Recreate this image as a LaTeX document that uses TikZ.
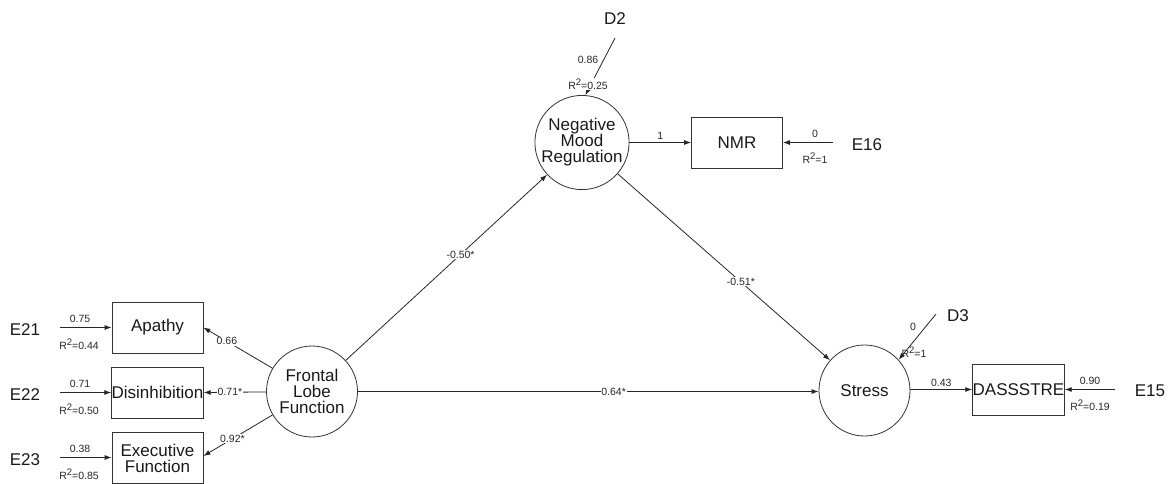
\documentclass[tikz,border=0pt]{standalone}
\usepackage{fontspec}
\setmainfont{Liberation Sans}
\usetikzlibrary{arrows.meta}
\newcommand{\rsq}{R\raisebox{0.38em}{\fontsize{9.5}{9.5}\selectfont 2}}
\begin{document}
\begin{tikzpicture}[x=1pt,y=-1pt,
  lat/.style={circle,draw=black!80,line width=0.8pt,minimum size=91pt,inner sep=0pt,align=center,text=black!90,font=\fontsize{17}{16}\selectfont},
  obs/.style={rectangle,draw=black!80,line width=0.8pt,minimum width=91pt,minimum height=51pt,inner sep=0pt,align=center,text=black!90,font=\fontsize{17}{16}\selectfont},
  err/.style={font=\fontsize{17}{18}\selectfont,inner sep=0pt,text=black!90},
  pth/.style={draw=black!85,line width=0.8pt,-{Latex[length=7pt,width=5pt]}},
  lbl/.style={font=\fontsize{10.5}{11}\selectfont,fill=white,inner sep=0.8pt,text=black!85},
  sml/.style={font=\fontsize{10.5}{11}\selectfont,inner sep=0pt,text=black!85}]
\useasboundingbox (0,0) rectangle (1176,483);

% latent variables
\node[lat] (FLF) at (312,391.5) {Frontal\\Lobe\\Function};
\node[lat] (NMRl) at (582,142.5) {Negative\\Mood\\Regulation};
\node[lat] (ST) at (864.5,390.5) {Stress};

% observed variables
\node[obs] (AP) at (157.5,327.5) {Apathy};
\node[obs] (DI) at (157.5,392.5) {Disinhibition};
\node[obs] (EF) at (157.5,458) {Executive\\Function};
\node[obs] (NMR) at (737,142.5) {NMR};
\node[obs] (DS) at (1018.5,389.5) {DASSSTRE};

% error / disturbance names
\node[err] (E21) at (25,330) {E21};
\node[err] (E22) at (25,395) {E22};
\node[err] (E23) at (25,460) {E23};
\node[err] (E16) at (867,145) {E16};
\node[err] (E15) at (1150,391) {E15};
\node[err] (D2) at (615,19) {D2};
\node[err] (D3) at (958,316) {D3};

% start points of error arrows
\coordinate (e21) at (60,327.5);
\coordinate (e22) at (60,392.5);
\coordinate (e23) at (60,457.5);
\coordinate (e16) at (833,142.5);
\coordinate (e15) at (1115,389.5);
\coordinate (d2) at (615,38);
\coordinate (d3) at (936,314);

% error arrows
\draw[pth] (e21) -- (AP.west);
\draw[pth] (e22) -- (DI.west);
\draw[pth] (e23) -- (EF.west |- e23);
\draw[pth] (e16) -- (NMR.east);
\draw[pth] (e15) -- (DS.east);
\draw[pth] (d2) -- (NMRl.86);
\draw[pth] (d3) -- (ST.42);

\node[sml] (l21) at (80,319) {0.75};
\node[sml] (r21) at (79,344) {\rsq=0.44};
\node[sml] (l22) at (80,384) {0.71};
\node[sml] (r22) at (79,409) {\rsq=0.50};
\node[sml] (l23) at (80,449) {0.38};
\node[sml] (r23) at (79,474) {\rsq=0.85};
\node[sml] (l16) at (815,134) {0};
\node[sml] (r16) at (815,158) {\rsq=1};
\node[sml] (l15) at (1090,381) {0.90};
\node[sml] (r15) at (1090,405) {\rsq=0.19};
\node[sml] (ld2) at (588,60) {0.86};
\node[lbl] (rd2) at (588,84) {\rsq=0.25};
\node[sml] (ld3) at (913,327) {0};
\node[sml] (rd3) at (914,352) {\rsq=1};

% structural paths
\draw[pth] (FLF) -- (AP.east) node[lbl,pos=0.66] {0.66};
\draw[pth] (FLF) -- (DI.east) node[lbl,pos=0.58] {0.71*};
\draw[pth] (FLF) -- (EF.east |- 0,456) node[lbl,pos=0.58] {0.92*};
\draw[pth] (FLF) -- (NMRl) node[lbl,pos=0.57] {-0.50*};
\draw[pth] (NMRl) -- (ST) node[lbl,pos=0.58] {-0.51*};
\draw[pth] (FLF.east) -- (ST.west |- FLF.east) node[lbl,pos=0.555] {0.64*};
\draw[pth] (NMRl) -- (NMR) node[sml,pos=0.5,above=3pt] {1};
\draw[pth] (ST.east |- DS.west) -- (DS.west) node[sml,pos=0.5,above=3pt] {0.43};
\end{tikzpicture}
\end{document}
